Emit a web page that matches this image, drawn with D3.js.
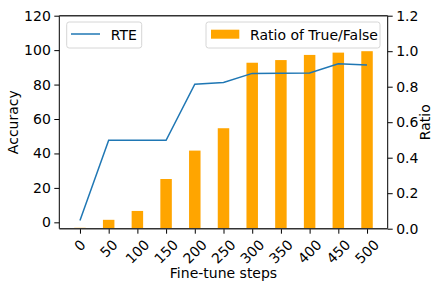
<!DOCTYPE html>
<html>
<head>
<meta charset="utf-8">
<script src="https://cdnjs.cloudflare.com/ajax/libs/d3/7.8.5/d3.min.js"></script>
<style>
  body { margin: 0; background: #fff; }
  text { font-family: "DejaVu Sans", sans-serif; fill: #000; }
</style>
</head>
<body>
<div id="chart"></div>
<script>
// fine-tune steps (categories)
var steps = ["0", "50", "100", "150", "200", "250", "300", "350", "400", "450", "500"];
// RTE accuracy (left axis)
var rteAcc = [1, 47.6, 47.6, 47.6, 80.2, 81.2, 86.5, 86.6, 86.7, 92.1, 91.3];
// ratio of true/false (right axis)
var ratio = [0.005, 0.05, 0.10, 0.28, 0.44, 0.566, 0.935, 0.95, 0.979, 0.992, 1.0];
var accTicks = [0, 20, 40, 60, 80, 100, 120];
var ratioTicks = [0.0, 0.2, 0.4, 0.6, 0.8, 1.0, 1.2];

var W = 435, H = 283;
var m = {left: 59.3, right: 435 - 387.7, top: 15.7, bottom: 283 - 228.7};
var iw = W - m.left - m.right, ih = H - m.top - m.bottom;
var fsz = 14, fs = fsz + "px";

var svg = d3.select("#chart").append("svg")
  .attr("width", W).attr("height", H);
var g = svg.append("g").attr("transform", "translate(" + m.left + "," + m.top + ")");

// scales
var x = d3.scaleLinear().domain([-0.72, steps.length - 1 + 0.72]).range([0, iw]);
var yL = d3.scaleLinear().domain([-3.7, 120]).range([ih, 0]);
var yR = d3.scaleLinear().domain([0, 1.2]).range([ih, 0]);
var barW = x(0.4) - x(0);

// bars
g.selectAll("rect.bar").data(ratio).enter().append("rect")
  .attr("class", "bar")
  .attr("x", function (d, i) { return x(i) - barW / 2; })
  .attr("width", barW)
  .attr("y", function (d) { return yR(d); })
  .attr("height", function (d) { return yR(0) - yR(d); })
  .attr("fill", "#ffa500");

// line
var line = d3.line()
  .x(function (d, i) { return x(i); })
  .y(function (d) { return yL(d); });
g.append("path").datum(rteAcc)
  .attr("d", line)
  .attr("fill", "none")
  .attr("stroke", "#1f77b4")
  .attr("stroke-width", 1.5);

// left axis
var axL = g.append("g")
  .call(d3.axisLeft(yL).tickValues(accTicks).tickSize(5).tickPadding(3.5).tickSizeOuter(0));
axL.select(".domain").remove();
axL.selectAll("text").style("font-size", fs).style("font-family", "DejaVu Sans");

// right axis
var axR = g.append("g").attr("transform", "translate(" + iw + ",0)")
  .call(d3.axisRight(yR).tickValues(ratioTicks).tickSize(5).tickPadding(3.5)
    .tickFormat(d3.format(".1f")).tickSizeOuter(0));
axR.select(".domain").remove();
axR.selectAll("text").style("font-size", fs).style("font-family", "DejaVu Sans");

// bottom ticks
var axB = g.append("g").attr("transform", "translate(0," + ih + ")")
  .call(d3.axisBottom(x).tickValues(d3.range(steps.length)).tickSize(5).tickFormat(""));
axB.select(".domain").remove();

// rotated x labels (centered on tick like matplotlib rotation=45)
g.selectAll("text.xl").data(steps).enter().append("text")
  .attr("class", "xl")
  .style("font-size", fs)
  .attr("text-anchor", "middle")
  .attr("dominant-baseline", "central")
  .attr("transform", function (d, i) {
    var w = d.length * 0.636 * fsz, h = 15.5;
    var s = (w + h) / Math.SQRT2;
    return "translate(" + x(i) + "," + (ih + 8 + s / 2) + ") rotate(-45)";
  })
  .text(function (d) { return d; });

// spines
g.append("line").attr("x1", 0).attr("x2", 0).attr("y1", 0).attr("y2", ih)
  .attr("stroke", "#000").attr("stroke-width", 1);
g.append("line").attr("x1", iw).attr("x2", iw).attr("y1", 0).attr("y2", ih)
  .attr("stroke", "#000").attr("stroke-width", 1);
g.append("line").attr("x1", 0).attr("x2", iw).attr("y1", 0).attr("y2", 0)
  .attr("stroke", "#333").attr("stroke-width", 1.6);
g.append("line").attr("x1", 0).attr("x2", iw).attr("y1", ih).attr("y2", ih)
  .attr("stroke", "#333").attr("stroke-width", 1.6);

// axis titles
svg.append("text")
  .attr("transform", "translate(18," + (m.top + ih / 2) + ") rotate(-90)")
  .attr("text-anchor", "middle")
  .style("font-size", fs)
  .text("Accuracy");
svg.append("text")
  .attr("transform", "translate(430," + (m.top + ih / 2) + ") rotate(-90)")
  .attr("text-anchor", "middle")
  .style("font-size", fs)
  .text("Ratio");
svg.append("text")
  .attr("x", m.left + iw / 2).attr("y", 278)
  .attr("text-anchor", "middle")
  .style("font-size", fs)
  .text("Fine-tune steps");

// legend: RTE
var lg1 = svg.append("g");
lg1.append("rect").attr("x", 66.7).attr("y", 22).attr("width", 75).attr("height", 26)
  .attr("rx", 2.5).attr("fill", "#fff").attr("fill-opacity", 0.8)
  .attr("stroke", "#d6d6d6").attr("stroke-width", 1);
lg1.append("line").attr("x1", 71).attr("x2", 100).attr("y1", 34).attr("y2", 34)
  .attr("stroke", "#1f77b4").attr("stroke-width", 1.5);
lg1.append("text").attr("x", 110.7).attr("y", 39.5).style("font-size", fs).text("RTE");

// legend: ratio
var lg2 = svg.append("g");
lg2.append("rect").attr("x", 206).attr("y", 22).attr("width", 174).attr("height", 26)
  .attr("rx", 2.5).attr("fill", "#fff").attr("fill-opacity", 0.8)
  .attr("stroke", "#d6d6d6").attr("stroke-width", 1);
lg2.append("rect").attr("x", 211).attr("y", 29.7).attr("width", 28.3).attr("height", 9)
  .attr("fill", "#ffa500");
lg2.append("text").attr("x", 250).attr("y", 39.5).style("font-size", fs).text("Ratio of True/False");
</script>
</body>
</html>
